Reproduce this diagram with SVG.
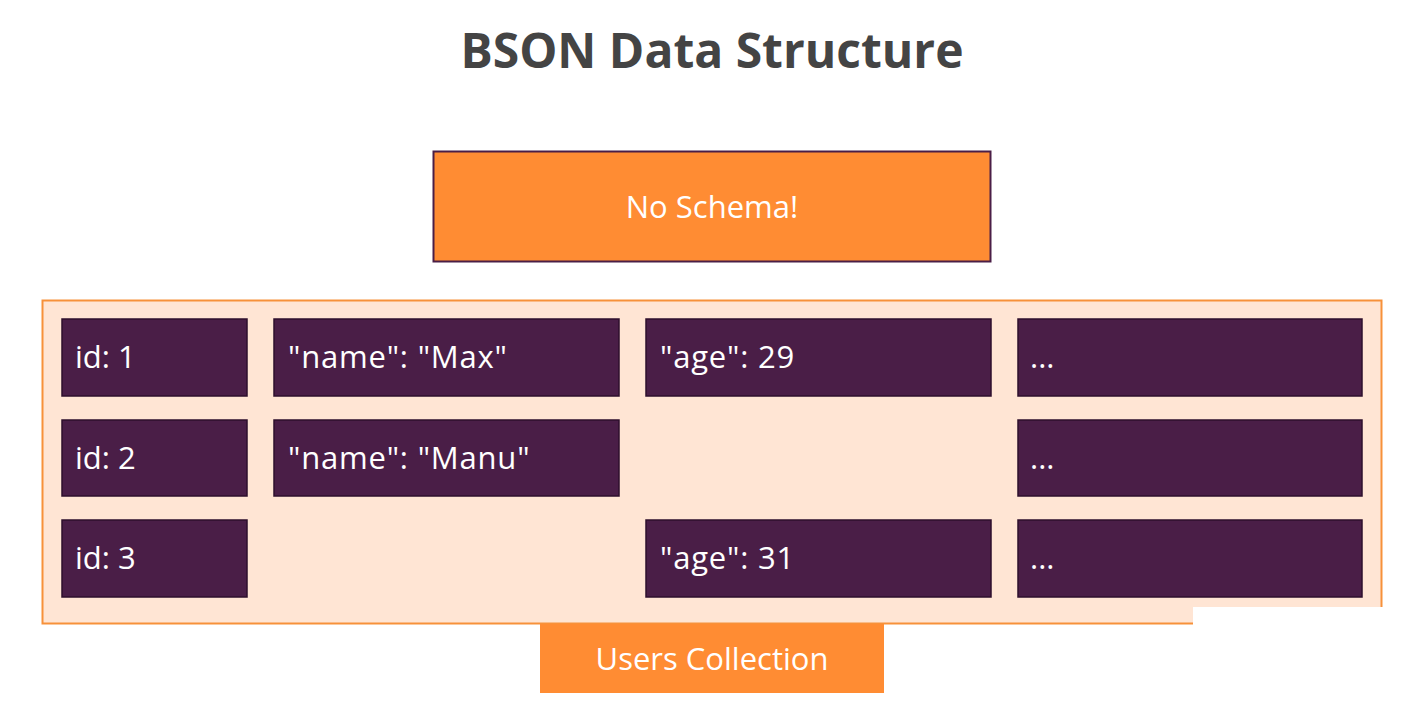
<svg xmlns="http://www.w3.org/2000/svg" width="1428" height="720" viewBox="0 0 1428 720">
<style>
.title{font-family:"Open Sans","Liberation Sans",sans-serif;font-weight:700;font-size:48px;fill:#444444}
.lbl{font-family:"Open Sans","Liberation Sans",sans-serif;font-size:31px;fill:#ffffff}
.q{letter-spacing:0.8px}
.cell{fill:#4A1E47;stroke:#2E0F2C;stroke-width:1.5}
.orange{fill:#FF8C33}
</style>
<rect width="1428" height="720" fill="#ffffff"/>
<text class="title" x="712" y="68" text-anchor="middle">BSON Data Structure</text>
<g id="no-schema">
<rect class="orange" x="433.5" y="151.5" width="557" height="110" stroke="#4A1E47" stroke-width="2"/>
<text class="lbl" x="712" y="218" text-anchor="middle">No Schema!</text>
</g>
<g id="collection">
<rect x="42.5" y="300.5" width="1339" height="323" fill="#FFE5D4" stroke="#F7913A" stroke-width="2"/>
</g>
<g id="r1c1"><rect class="cell" x="62" y="319" width="185" height="77"/><text class="lbl" x="75" y="368">id: 1</text></g>
<g id="r1c2"><rect class="cell" x="274" y="319" width="345" height="77"/><text class="lbl q" x="288" y="368">"name": "Max"</text></g>
<g id="r1c3"><rect class="cell" x="646" y="319" width="345" height="77"/><text class="lbl q" x="660" y="368">"age": 29</text></g>
<g id="r1c4"><rect class="cell" x="1018" y="319" width="344" height="77"/><text class="lbl" x="1030" y="368">...</text></g>
<g id="r2c1"><rect class="cell" x="62" y="420" width="185" height="76"/><text class="lbl" x="75" y="469">id: 2</text></g>
<g id="r2c2"><rect class="cell" x="274" y="420" width="345" height="76"/><text class="lbl q" x="288" y="469">"name": "Manu"</text></g>
<g id="r2c4"><rect class="cell" x="1018" y="420" width="344" height="76"/><text class="lbl" x="1030" y="469">...</text></g>
<g id="r3c1"><rect class="cell" x="62" y="520" width="185" height="77"/><text class="lbl" x="75" y="569">id: 3</text></g>
<g id="r3c3"><rect class="cell" x="646" y="520" width="345" height="77"/><text class="lbl q" x="660" y="569">"age": 31</text></g>
<g id="r3c4"><rect class="cell" x="1018" y="520" width="344" height="77"/><text class="lbl" x="1030" y="569">...</text></g>
<g id="users-collection">
<rect class="orange" x="540" y="624" width="344" height="69"/>
<text class="lbl" x="712" y="670" text-anchor="middle">Users Collection</text>
</g>
<rect x="1193" y="607" width="235" height="113" fill="#ffffff"/>
<g id="connectors"></g>
</svg>
